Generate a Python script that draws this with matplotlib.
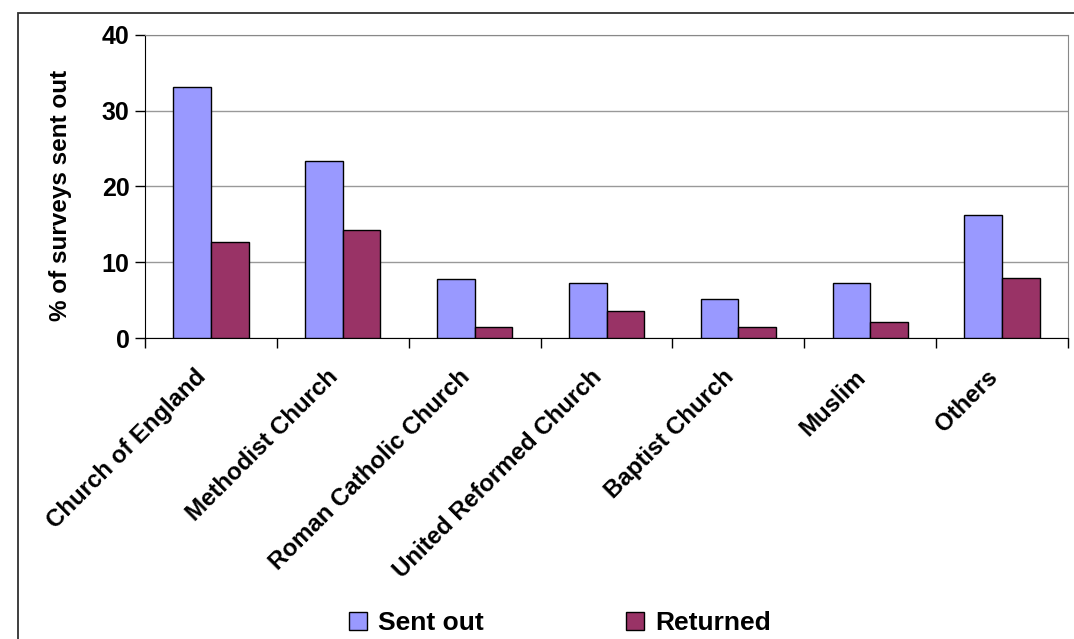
import numpy as np
import matplotlib.pyplot as plt
from matplotlib.patches import Rectangle
from matplotlib.transforms import ScaledTranslation

plt.rcParams['font.family'] = ['Liberation Sans', 'DejaVu Sans']
plt.rcParams['font.weight'] = 'bold'

categories = ["Church of England", "Methodist Church", "Roman Catholic Church",
              "United Reformed Church", "Baptist Church", "Muslim", "Others"]
sent_out = [33.2, 23.4, 7.8, 7.2, 5.1, 7.2, 16.3]
returned = [12.7, 14.2, 1.5, 3.6, 1.5, 2.1, 7.9]

fig = plt.figure(figsize=(10.74, 6.39), dpi=100)
ax = fig.add_axes([145 / 1074, 1 - 338 / 639, (1068 - 145) / 1074, (338 - 35) / 639])

# outer chart frame (cut off at right and bottom)
fig.patches.append(Rectangle((18 / 1074, -0.2), 1.2, 1.2 - 13 / 639,
                             transform=fig.transFigure, fill=False,
                             edgecolor="#303030", linewidth=1.3))

x = np.arange(len(categories))
w = 0.285
ax.bar(x - w / 2, sent_out, w, color="#9999FF", edgecolor="black", linewidth=1, label="Sent out", zorder=3)
ax.bar(x + w / 2, returned, w, color="#993366", edgecolor="black", linewidth=1, label="Returned", zorder=3)

ax.set_xlim(-0.5, len(categories) - 0.5)
ax.set_ylim(0, 40)
ax.set_yticks([0, 10, 20, 30, 40])
ax.yaxis.grid(True, color="#999999", linewidth=1, zorder=0)

# category labels, rotated 45 degrees below each group
ax.set_xticks(x)
ax.set_xticklabels([])
ax.tick_params(axis="x", which="major", length=0)
label_tr = ax.transData + ScaledTranslation(-0.165, -0.275, fig.dpi_scale_trans)
for i, c in enumerate(categories):
    ax.text(x[i], 0, c, transform=label_tr, rotation=45, ha="right", va="top",
            rotation_mode="anchor", fontsize=17.3, fontweight="bold", clip_on=False)

ax.set_xticks(np.arange(len(categories) + 1) - 0.5, minor=True)
ax.tick_params(axis="x", which="minor", length=7, width=1, direction="out")
ax.tick_params(axis="y", length=7, width=1, direction="out", labelsize=18, pad=4)
for lab in ax.get_yticklabels():
    lab.set_fontweight("bold")

ax.set_ylabel("% of surveys sent out", fontsize=17.5, fontweight="bold")
ax.yaxis.set_label_coords(-0.079, 0.469)

for s in ["top", "right"]:
    ax.spines[s].set_color("#888888")
for s in ["left", "bottom"]:
    ax.spines[s].set_color("black")

handles, labels = ax.get_legend_handles_labels()
fig.legend(handles, labels, loc="center", bbox_to_anchor=(0.521, 0.025), ncol=2,
           frameon=False, prop={"size": 19, "weight": "bold"},
           handlelength=0.7, handleheight=0.7, handletextpad=0.4, columnspacing=5.4)

fig.savefig("out.png", dpi=100)
